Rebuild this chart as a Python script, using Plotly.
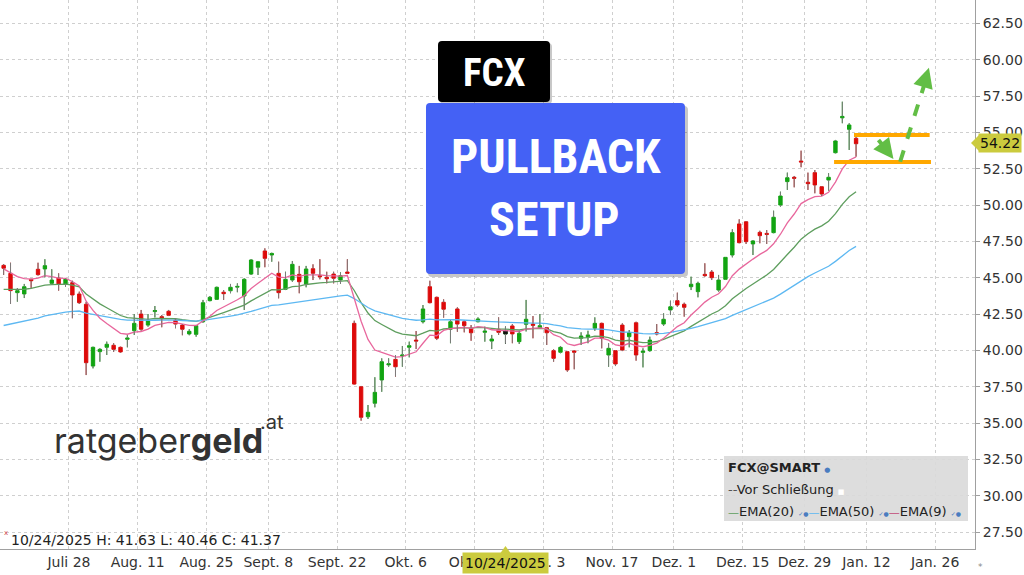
import plotly.graph_objects as go
import pandas as pd

# ---------------- data ----------------
holidays = ["2025-09-01", "2025-11-27", "2025-12-25", "2026-01-01"]
trading_days = [d.strftime("%Y-%m-%d") for d in pd.bdate_range("2025-07-14", "2026-01-30")
                if d.strftime("%Y-%m-%d") not in holidays]
first_tick_date = "2025-07-28"
day_index = {d: i - trading_days.index(first_tick_date) for i, d in enumerate(trading_days)}

n_candles = 125
candle_dates = trading_days[:n_candles]

opens = [45.85, 45.30, 43.97, 43.88, 44.89, 45.58, 45.60, 44.61, 44.98, 44.57,
         44.66, 43.88, 43.17, 38.92, 39.91, 40.21, 40.35, 40.21, 40.76, 41.35,
         42.50, 41.74, 42.67, 42.32, 42.69, 42.09, 41.74, 41.13, 41.10, 41.97,
         43.42, 43.51, 44.00, 44.10, 44.35, 43.74, 45.25, 45.72, 46.84, 46.56,
         45.30, 44.20, 44.84, 45.23, 44.57, 45.62, 45.14, 45.03, 45.25, 44.84,
         45.39, 41.86, 37.50, 35.43, 36.36, 37.96, 39.00, 39.38, 39.62, 40.21,
         40.71, 41.97, 44.38, 43.65, 43.31, 41.45, 42.85, 41.97, 41.52, 41.97,
         41.24, 40.64, 41.45, 41.13, 41.68, 40.60, 41.79, 41.81, 41.56, 41.56,
         39.98, 39.87, 39.91, 39.96, 40.83, 40.90, 41.52, 41.86, 39.68, 39.98,
         41.74, 40.94, 41.90, 39.86, 39.98, 41.22, 41.81, 42.78, 43.42, 43.17,
         44.38, 44.04, 45.23, 45.39, 44.15, 44.89, 46.56, 48.70, 48.85, 47.32,
         48.12, 48.05, 48.10, 50.00, 51.61, 51.91, 53.03, 51.57, 52.23, 51.26,
         51.72, 53.60, 56.00, 55.21, 54.59]
highs = [45.94, 46.03, 44.29, 44.57, 44.92, 46.03, 46.27, 45.58, 45.30, 44.95,
         44.79, 44.04, 43.33, 40.25, 40.14, 40.60, 40.49, 40.25, 41.06, 42.50,
         42.78, 42.50, 43.05, 42.43, 42.78, 42.21, 41.81, 41.45, 41.74, 43.47,
         43.74, 44.38, 44.15, 44.57, 44.61, 44.96, 46.27, 46.15, 47.02, 46.72,
         46.10, 45.41, 46.15, 45.81, 45.81, 45.92, 46.27, 45.41, 45.41, 45.37,
         46.27, 42.04, 37.55, 36.24, 38.15, 39.45, 39.45, 39.68, 40.30, 40.60,
         41.33, 43.12, 44.79, 43.69, 43.51, 42.09, 42.96, 42.04, 41.74, 42.27,
         41.63, 41.06, 42.27, 41.63, 41.81, 41.35, 43.47, 42.36, 42.50, 41.61,
         40.07, 40.30, 39.96, 40.02, 41.24, 41.35, 42.27, 41.90, 40.49, 40.02,
         41.86, 41.40, 41.97, 40.14, 40.94, 41.81, 42.55, 43.42, 43.97, 43.28,
         45.07, 44.72, 45.99, 45.53, 45.19, 46.42, 48.33, 49.02, 48.90, 47.59,
         48.23, 48.28, 49.61, 50.92, 52.23, 52.00, 53.74, 52.23, 52.41, 51.30,
         52.19, 54.48, 57.11, 55.63, 54.70]
lows = [45.19, 43.19, 43.35, 43.60, 44.29, 45.15, 45.03, 44.55, 44.11, 44.38,
        42.21, 43.19, 38.30, 38.76, 39.22, 39.68, 39.89, 39.84, 40.21, 41.06,
        41.35, 41.63, 42.27, 41.59, 42.36, 41.52, 41.04, 41.04, 40.94, 41.90,
        43.38, 43.47, 43.47, 43.93, 44.00, 42.78, 45.19, 45.19, 45.72, 46.10,
        43.58, 44.15, 44.72, 43.93, 44.34, 44.84, 44.89, 44.61, 44.61, 44.57,
        45.25, 37.65, 35.16, 35.28, 36.08, 37.15, 38.87, 38.19, 38.87, 39.52,
        40.09, 41.86, 43.24, 40.71, 42.25, 40.49, 41.28, 41.24, 40.66, 41.93,
        40.60, 40.09, 41.06, 40.46, 40.49, 40.44, 41.30, 40.83, 41.52, 40.37,
        39.22, 39.80, 38.53, 38.70, 40.37, 40.49, 41.35, 40.14, 38.87, 38.92,
        39.95, 40.21, 39.29, 38.83, 39.91, 41.04, 41.68, 42.43, 43.00, 42.32,
        44.15, 43.65, 45.07, 44.84, 44.04, 44.84, 46.40, 47.37, 47.32, 46.56,
        47.37, 47.32, 48.06, 49.89, 51.04, 51.22, 52.60, 51.04, 50.81, 50.62,
        50.99, 53.56, 55.63, 53.79, 53.33]
closes = [45.65, 44.11, 44.11, 44.38, 44.79, 45.21, 45.83, 44.84, 44.57, 44.89,
          43.81, 43.28, 39.15, 40.21, 40.07, 40.42, 40.07, 39.89, 40.85, 41.86,
          41.45, 42.09, 42.74, 42.18, 42.41, 41.81, 41.45, 41.31, 41.70, 43.28,
          43.65, 44.34, 43.90, 44.34, 44.40, 44.89, 46.22, 46.10, 46.33, 46.67,
          43.97, 44.89, 45.92, 44.72, 45.60, 45.30, 45.07, 44.93, 44.96, 45.14,
          45.30, 37.68, 35.39, 35.74, 37.11, 39.22, 39.07, 38.87, 39.68, 40.32,
          40.64, 42.85, 43.28, 40.83, 42.83, 41.97, 41.81, 41.70, 41.21, 42.16,
          41.33, 40.78, 41.24, 41.37, 41.13, 41.17, 42.14, 41.72, 41.70, 41.21,
          39.45, 40.21, 38.65, 39.87, 40.99, 41.06, 41.86, 40.83, 40.14, 39.06,
          40.02, 41.22, 39.68, 39.95, 40.71, 41.13, 42.14, 43.00, 43.12, 42.96,
          44.55, 44.61, 45.14, 45.00, 44.84, 46.40, 48.10, 47.41, 47.48, 47.53,
          47.89, 47.98, 49.16, 50.62, 51.88, 51.84, 52.96, 51.47, 51.38, 50.76,
          51.91, 54.41, 56.10, 55.51, 54.22]

# EMA starting levels (values of each EMA just before the first visible bar)
ema_periods = [20, 50, 9]
ema_seeds = [44.05, 41.55, 45.60]

tick_dates = ["2025-07-28", "2025-08-11", "2025-08-25", "2025-09-08", "2025-09-22",
              "2025-10-06", "2025-10-20", "2025-11-03", "2025-11-17", "2025-12-01",
              "2025-12-15", "2025-12-29", "2026-01-12", "2026-01-26"]
tick_labels = ["Juli 28", "Aug. 11", "Aug. 25", "Sept. 8", "Sept. 22", "Okt. 6", "Okt. 20",
               "Nov. 3", "Nov. 17", "Dez. 1", "Dez. 15", "Dez. 29", "Jan. 12", "Jan. 26"]

highlight_date = "2025-10-24"
last_price = closes[-1]

# setup levels drawn on the chart
setup_upper = 54.82
setup_lower = 52.96

# ---------------- styling ----------------
GREEN = "#12A412"
RED = "#DD0A0A"
WICK = "#7c7c7c"
EMA_COLORS = {20: "#5E9E5E", 50: "#5DB8F2", 9: "#E8679D"}
NARROW = "Roboto Condensed, Liberation Sans Narrow, Arial Narrow, Roboto, sans-serif"
UI = "DejaVu Sans, Verdana, sans-serif"
LOGO = "Inter, Roboto, Helvetica, sans-serif"
HL = "#CBCB3E"

W, H = 1024, 575
ML, MR, MT, MB = 0, 49, 0, 26
PW, PH = W - ML - MR, H - MT - MB
X_RANGE = [-10.53, 131.3]


def px(x):
    return x / PW


def py(y):
    return 1 - y / PH


def rrect_path(x0, y0, x1, y1, r):
    pts = [("M", x0 + r, y0), ("L", x1 - r, y0), ("Q", x1, y0, x1, y0 + r), ("L", x1, y1 - r),
           ("Q", x1, y1, x1 - r, y1), ("L", x0 + r, y1), ("Q", x0, y1, x0, y1 - r),
           ("L", x0, y0 + r), ("Q", x0, y0, x0 + r, y0)]
    s = ""
    for p in pts:
        cmd = p[0]
        coords = p[1:]
        parts = []
        for i in range(0, len(coords), 2):
            parts.append(f"{px(coords[i]):.5f},{py(coords[i + 1]):.5f}")
        s += cmd + " " + " ".join(parts) + " "
    return s + "Z"


def poly_path(points):
    return "M " + " L ".join(f"{px(x):.5f},{py(y):.5f}" for x, y in points) + " Z"


def ema(values, period, seed):
    k = 2.0 / (period + 1)
    out, prev = [], seed
    for v in values:
        prev = prev + k * (v - prev)
        out.append(prev)
    return out


xs = [day_index[d] for d in candle_dates]

fig = go.Figure()

# EMA lines
for period, seed in zip(ema_periods, ema_seeds):
    fig.add_trace(go.Scatter(x=xs, y=ema(closes, period, seed), mode="lines",
                             line=dict(color=EMA_COLORS[period], width=1.3),
                             hoverinfo="skip", showlegend=False))

# candles
fig.add_trace(go.Candlestick(
    x=xs, open=opens, high=highs, low=lows, close=closes,
    increasing=dict(line=dict(color=GREEN, width=1), fillcolor=GREEN),
    decreasing=dict(line=dict(color=RED, width=1), fillcolor=RED),
    whiskerwidth=0, hoverinfo="skip", showlegend=False))

hi = candle_dates.index(highlight_date)
fig.add_trace(go.Candlestick(
    x=[xs[hi]], open=[opens[hi]], high=[highs[hi]], low=[lows[hi]], close=[closes[hi]],
    increasing=dict(line=dict(color="#111111", width=1), fillcolor="#111111"),
    decreasing=dict(line=dict(color="#111111", width=1), fillcolor="#111111"),
    whiskerwidth=0, hoverinfo="skip", showlegend=False))

# gray wicks (outside the bodies)
wx, wy = [], []
for x, o, h, l, c in zip(xs, opens, highs, lows, closes):
    top, bot = max(o, c), min(o, c)
    wx += [x, x, None, x, x, None]
    wy += [h, top, None, bot, l, None]
fig.add_trace(go.Scatter(x=wx, y=wy, mode="lines", line=dict(color=WICK, width=1),
                         hoverinfo="skip", showlegend=False, connectgaps=False))

# ---------------- shapes ----------------
shapes = []
shapes.append(dict(type="line", xref="x", yref="y", x0=113.7, x1=124.7, y0=setup_upper, y1=setup_upper,
                   line=dict(color="#FFA800", width=4)))
shapes.append(dict(type="line", xref="x", yref="y", x0=110.8, x1=124.9, y0=setup_lower, y1=setup_lower,
                   line=dict(color="#FFA800", width=4)))
ARROW_GREEN = "#62BE45"
shapes.append(dict(type="line", xref="x", yref="y", x0=117.26, y0=54.48, x1=118.9, y1=53.5,
                   line=dict(color=ARROW_GREEN, width=4, dash="dash")))
shapes.append(dict(type="line", xref="x", yref="y", x0=120.41, y0=52.98, x1=124.2, y1=58.7,
                   line=dict(color=ARROW_GREEN, width=4, dash="dash")))

shapes.append(dict(type="path", xref="paper", yref="paper", path=rrect_path(440, 43, 552, 104, 4),
                   fillcolor="rgba(0,0,0,0.22)", line=dict(width=0)))
shapes.append(dict(type="path", xref="paper", yref="paper", path=rrect_path(438, 41, 550, 102, 4),
                   fillcolor="#000000", line=dict(width=0)))
shapes.append(dict(type="path", xref="paper", yref="paper", path=rrect_path(428, 106, 688, 277, 4),
                   fillcolor="rgba(0,0,0,0.22)", line=dict(width=0)))
shapes.append(dict(type="path", xref="paper", yref="paper", path=rrect_path(426, 103, 685, 274, 4),
                   fillcolor="#4461F5", line=dict(width=0)))
shapes.append(dict(type="rect", xref="paper", yref="paper", x0=px(724), x1=px(968), y0=py(521), y1=py(456),
                   fillcolor="rgba(218,218,218,0.92)", line=dict(width=0)))
shapes.append(dict(type="path", xref="paper", yref="paper",
                   path=poly_path([(971, 143), (979, 135), (979, 151)]), fillcolor=HL, line=dict(width=0)))
hx = (day_index[highlight_date] - X_RANGE[0]) / (X_RANGE[1] - X_RANGE[0]) * PW
shapes.append(dict(type="path", xref="paper", yref="paper",
                   path=poly_path([(hx, 546), (hx - 5, 553), (hx + 5, 553)]), fillcolor=HL, line=dict(width=0)))

# ---------------- annotations ----------------
ann = []
ann.append(dict(xref="paper", yref="paper", x=px(494), y=py(72.5), text="<b>FCX</b>", showarrow=False,
                font=dict(family=NARROW, size=39, color="white"), xanchor="center", yanchor="middle"))
ann.append(dict(xref="paper", yref="paper", x=px(555.5), y=py(156), text="<b>PULLBACK</b>", showarrow=False,
                font=dict(family=NARROW, size=48, color="white"), xanchor="center", yanchor="middle"))
ann.append(dict(xref="paper", yref="paper", x=px(554), y=py(219), text="<b>SETUP</b>", showarrow=False,
                font=dict(family=NARROW, size=48, color="white"), xanchor="center", yanchor="middle"))
ann.append(dict(xref="x", yref="y", x=119.44, y=53.17, ax=-7, ay=-9, text="", showarrow=True,
                arrowhead=2, arrowsize=1, arrowwidth=4, arrowcolor=ARROW_GREEN))
ann.append(dict(xref="x", yref="y", x=124.6, y=59.45, ax=-4, ay=13, text="", showarrow=True,
                arrowhead=2, arrowsize=1, arrowwidth=4, arrowcolor=ARROW_GREEN))
ann.append(dict(xref="paper", yref="paper", x=px(52), y=py(440), text="ratgeber<b>geld</b>", showarrow=False,
                font=dict(family=LOGO, size=34, color="#333333"), xanchor="left", yanchor="middle"))
ann.append(dict(xref="paper", yref="paper", x=px(258), y=py(422), text=".at", showarrow=False,
                font=dict(family=LOGO, size=20, color="#333333"), xanchor="left", yanchor="middle"))
ann.append(dict(xref="paper", yref="paper", x=px(726), y=py(468),
                text="<b>FCX@SMART</b> <span style='color:#4a7cc0;font-size:7px'>●</span>",
                showarrow=False, font=dict(family=UI, size=13, color="#222222"), xanchor="left", yanchor="middle"))
ann.append(dict(xref="paper", yref="paper", x=px(726), y=py(489),
                text="<span style='color:#555555'>--</span>Vor Schließung <span style='color:#ffffff;font-size:7px'>■</span>",
                showarrow=False, font=dict(family=UI, size=13, color="#222222"), xanchor="left", yanchor="middle"))
icons = "<span style='color:#4a7cc0;font-size:6px'>✓●</span>"
ann.append(dict(xref="paper", yref="paper", x=px(726), y=py(511),
                text=(f"<span style='color:{EMA_COLORS[20]};font-size:11px'>—</span>EMA(20) {icons}"
                      f"<span style='color:{EMA_COLORS[50]};font-size:11px'>—</span>EMA(50) {icons}"
                      f"<span style='color:#C24A78;font-size:11px'>—</span>EMA(9) {icons}"),
                showarrow=False, font=dict(family=UI, size=13, color="#222222"), xanchor="left", yanchor="middle"))
ann.append(dict(xref="paper", yref="paper", x=px(9), y=py(540),
                text=(f"{pd.Timestamp(highlight_date).strftime('%m/%d/%Y')} H: {highs[hi]:.2f} "
                      f"L: {lows[hi]:.2f} C: {closes[hi]:.2f}"),
                showarrow=False, font=dict(family=UI, size=14, color="#222222"), xanchor="left", yanchor="middle"))
ann.append(dict(xref="paper", yref="paper", x=px(2), y=py(533), text="x", showarrow=False,
                font=dict(family=UI, size=7, color="#cc4444"), xanchor="left", yanchor="middle"))
ann.append(dict(xref="paper", yref="paper", x=px(978), y=py(143), text=f"{last_price:.2f}", showarrow=False,
                font=dict(family=UI, size=14, color="#111111"), xanchor="left", yanchor="middle",
                bgcolor=HL, borderpad=1))
ann.append(dict(xref="x", yref="paper", x=day_index[highlight_date], y=py(563),
                text=pd.Timestamp(highlight_date).strftime("%m/%d/%Y"), showarrow=False,
                font=dict(family=UI, size=14, color="#111111"), xanchor="center", yanchor="middle",
                bgcolor=HL, borderpad=2))
ann.append(dict(xref="paper", yref="paper", x=px(976), y=py(567), text="*", showarrow=False,
                font=dict(family=UI, size=9, color="#888888"), xanchor="left", yanchor="middle"))

fig.update_layout(
    width=W, height=H, margin=dict(l=ML, r=MR, t=MT, b=MB, autoexpand=False),
    paper_bgcolor="white", plot_bgcolor="white", showlegend=False,
    shapes=shapes, annotations=ann,
    xaxis=dict(range=X_RANGE, rangeslider=dict(visible=False), tickmode="array",
               tickvals=[day_index[d] - 0.5 for d in tick_dates],
               ticktext=tick_labels, showgrid=True, gridcolor="#cfcfcf", griddash="dot", gridwidth=1,
               showline=True, linecolor="#a0a0a0", linewidth=1, ticks="", zeroline=False,
               tickfont=dict(family=UI, size=14, color="#333333"), automargin=False, fixedrange=True),
    yaxis=dict(range=[26.33, 64.11], side="right", tick0=0, dtick=2.5, tickformat=".2f",
               showgrid=True, gridcolor="#cfcfcf", griddash="dot", gridwidth=1,
               showline=True, linecolor="#a0a0a0", linewidth=1, ticks="outside", ticklen=4,
               tickcolor="#a0a0a0", zeroline=False,
               tickfont=dict(family=UI, size=14, color="#333333"), automargin=False, fixedrange=True),
)

fig.write_html("out.html", config={"displayModeBar": False},
               post_script="document.body.style.margin='0px';document.body.style.overflow='hidden';")
